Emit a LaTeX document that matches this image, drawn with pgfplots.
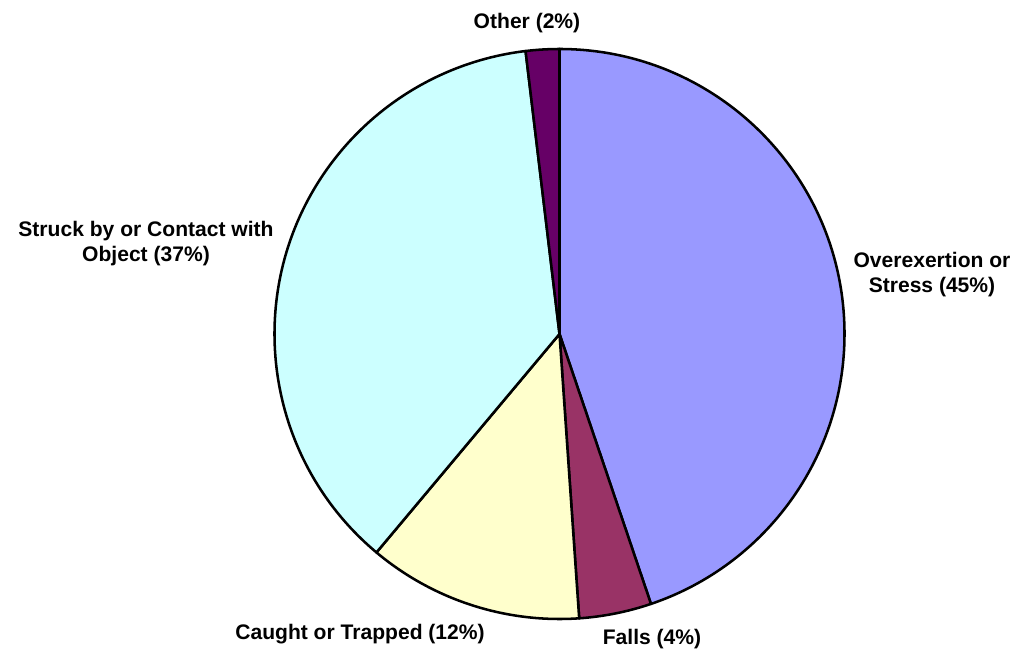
\documentclass[border=0pt]{standalone}
\usepackage{pgfplots}
\usepackage{pgfplotstable}
\pgfplotsset{compat=1.18}
\usepackage{fontspec}
\setmainfont{Liberation Sans}

\definecolor{c0}{HTML}{9999FF}
\definecolor{c1}{HTML}{993366}
\definecolor{c2}{HTML}{FFFFCC}
\definecolor{c3}{HTML}{CCFFFF}
\definecolor{c4}{HTML}{660066}

% share of each slice in percent, clockwise from 12 o'clock
\pgfplotstableread{
idx pct
0 44.8
1 4.1
2 12.2
3 37.0
4 1.9
}\piedata

\begin{document}
\begin{tikzpicture}
\begin{axis}[
  width=765pt, height=490.5pt, scale only axis,
  xmin=0, xmax=1020, ymin=0, ymax=654,
  hide axis, clip=false,
]
\path (rel axis cs:0,0) rectangle (rel axis cs:1,1);
\gdef\startang{90}
\pgfplotsforeachungrouped \i in {0,...,4}{%
  \pgfplotstablegetelem{\i}{pct}\of\piedata
  \let\p=\pgfplotsretval
  \pgfmathsetmacro\endang{\startang - 3.6*\p}%
  \edef\cmd{\noexpand\filldraw[fill=c\i, draw=black, line width=1.9pt, line join=round]
    (axis cs:559.5,320) -- ++(\startang:213.75pt)
    arc[start angle=\startang, end angle=\endang, radius=213.75pt] -- cycle;}%
  \cmd
  \global\let\startang\endang
}
\tikzset{lab/.style={font=\bfseries\fontsize{15.8}{19}\selectfont, align=center, inner sep=0pt}}
\node[lab] at (axis cs:527,631) {Other (2\%)};
\node[lab] at (axis cs:146,410.5) {Struck by or Contact with\\Object (37\%)};
\node[lab] at (axis cs:932,379.5) {Overexertion or\\Stress (45\%)};
\node[lab] at (axis cs:360,20) {Caught or Trapped (12\%)};
\node[lab] at (axis cs:652,15) {Falls (4\%)};
\end{axis}
\end{tikzpicture}
\end{document}
